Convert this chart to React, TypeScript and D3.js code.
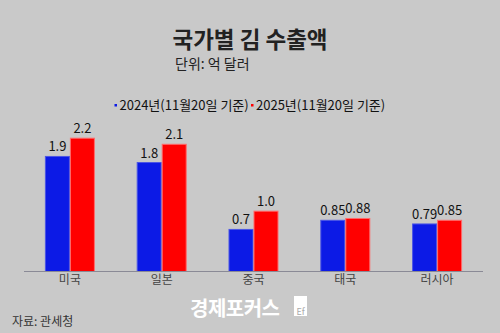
import React from "react";
import * as d3 from "d3";

const categories = ["미국", "일본", "중국", "태국", "러시아"];
const values2024 = [1.9, 1.8, 0.7, 0.85, 0.79];
const values2025 = [2.2, 2.1, 1.0, 0.88, 0.85];
const labels2024 = ["1.9", "1.8", "0.7", "0.85", "0.79"];
const labels2025 = ["2.2", "2.1", "1.0", "0.88", "0.85"];
const seriesNames = ["2024년(11월20일 기준)", "2025년(11월20일 기준)"];

const W = 500, H = 333;
const FONT = "'Noto Sans CJK KR', 'Noto Sans', sans-serif";
const BLUE = "#0c1ae6";
const RED = "#ff0000";

export default function App() {
  const x = d3.scaleBand<string>().domain(categories).range([24, 483]).padding(0);
  const y = d3.scaleLinear().domain([0, 2.2]).range([271.5, 137.7]);
  const bw = 25;
  const series = [
    { vals: values2024, labels: labels2024, color: BLUE, stroke: "#4b55e6", off: -bw },
    { vals: values2025, labels: labels2025, color: RED, stroke: "#ff6a6a", off: 0 },
  ];
  return (
    <svg width={W} height={H} style={{ position: "absolute", left: 0, top: 0 }} fontFamily={FONT}>
      <rect x={0} y={0} width={W} height={H} fill="#c9c9c9" />
      <text x={250} y={48} textAnchor="middle" fontSize={22.5} fontWeight={700} fill="#222">국가별 김 수출액</text>
      <text x={175} y={69} fontSize={14} fill="#222">단위: 억 달러</text>
      <g fontSize={13} fill="#111">
        <rect x={114.5} y={104} width={2.5} height={2.5} fill={BLUE} />
        <text x={119.5} y={110}>{seriesNames[0]}</text>
        <rect x={251} y={104} width={2.5} height={2.5} fill={RED} />
        <text x={256} y={110}>{seriesNames[1]}</text>
      </g>
      {series.map((s, si) => (
        <g key={si}>
          {categories.map((c, i) => {
            const cx = (x(c) as number) + x.bandwidth() / 2;
            const bx = cx + s.off;
            const top = y(s.vals[i]);
            return (
              <g key={c}>
                <rect x={bx + 0.5} y={top + 0.5} width={bw - 1} height={y(0) - top - 0.5} fill={s.color} stroke={s.stroke} strokeWidth={1} />
                <text x={bx + bw / 2} y={top - 4.5} textAnchor="middle" fontSize={13} fill="#111">{s.labels[i]}</text>
              </g>
            );
          })}
        </g>
      ))}
      <line x1={24} x2={483} y1={271.5} y2={271.5} stroke="#8a8a96" strokeWidth={1} />
      {categories.map((c) => (
        <text key={c} x={(x(c) as number) + x.bandwidth() / 2} y={284} textAnchor="middle" fontSize={12} fill="#444">{c}</text>
      ))}
      <text x={12} y={326} fontSize={12} fill="#333">자료: 관세청</text>
      <text x={190} y={316} fontSize={20} fontWeight={700} fill="#ffffff" letterSpacing={-0.5}>경제포커스</text>
      <rect x={294} y={296} width={13} height={20} fill="#ffffff" />
      <text x={300.5} y={315} textAnchor="middle" fontSize={9} fill="#aaa">Ef</text>
    </svg>
  );
}
